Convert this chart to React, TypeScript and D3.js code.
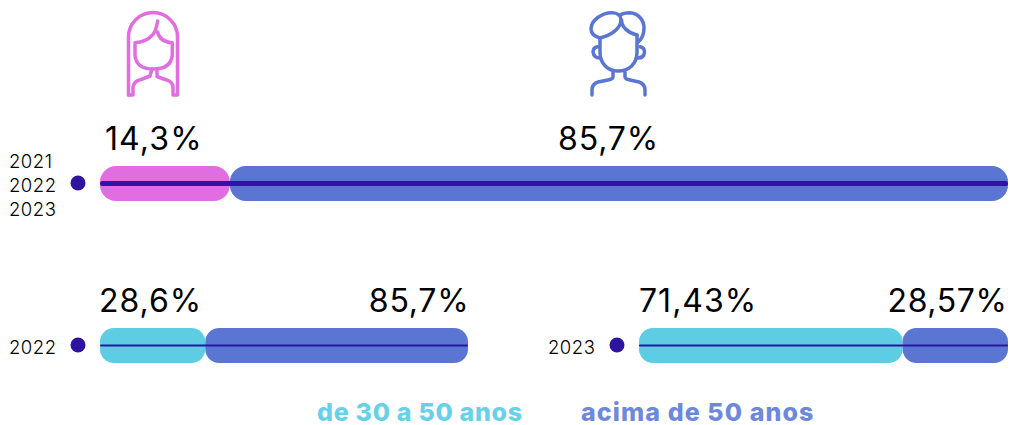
import React from "react";
import * as d3 from "d3";

const PINK = "#e06ee0", BLUE = "#5a75d2", CYAN = "#5ccde3", DARK = "#2e14a0";
const FONT = "Inter, 'Open Sans', sans-serif";

const topValues = [14.3, 85.7];
const topLabels = ["14,3%", "85,7%"];
const topYears = ["2021", "2022", "2023"];
const values2022 = [28.6, 71.4];
const labels2022 = ["28,6%", "85,7%"];
const values2023 = [71.43, 28.57];
const labels2023 = ["71,43%", "28,57%"];
const legendLabels = ["de 30 a 50 anos", "acima de 50 anos"];

function Row({ values, colors, x0, x1, y, h, r, lineW }: any) {
  const x = d3.scaleLinear().domain([0, 100]).range([x0, x1]);
  let acc = 0;
  return (
    <g>
      {values.map((v: number, i: number) => {
        const a = x(acc);
        acc += v;
        const b = x(acc);
        return <rect key={i} x={a} y={y} width={b - a} height={h} rx={r} ry={r} fill={colors[i]} />;
      })}
      <line x1={x0 + lineW / 2} x2={x1 - lineW / 2} y1={y + h / 2} y2={y + h / 2} stroke={DARK} strokeWidth={lineW} strokeLinecap="round" />
    </g>
  );
}

function Txt({ x, y, size, anchor, fill, weight, children, spacing }: any) {
  return (
    <text x={x} y={y} fontSize={size} textAnchor={anchor || "start"} fill={fill || "#000"} fontWeight={weight || 400}
      fontFamily={FONT} letterSpacing={spacing}>{children}</text>
  );
}

export default function App() {
  return (
    <svg width={1011} height={425} style={{ position: "absolute", left: 0, top: 0, background: "#fff" }}>
      {/* woman icon */}
      <g fill="none" stroke={PINK} strokeWidth={3.5} strokeLinecap="round" strokeLinejoin="round">
        <path d="M128.5,95 V37 A24.5,24.5 0 0 1 177.5,37 V95 H173 V87 Q172.5,81 165,79.5 L157,76.5 V69" />
        <path d="M128.5,95 H133 V87 Q134,81 141,79.5 L150,76 L152,69" />
        <path d="M157.7,21 Q156,31 152.5,35 Q146,42 135,42.7 V55 Q136,69 153.5,69 Q171,69 172.3,55 V42.7 Q160,42 157.5,32" />
      </g>
      {/* man icon */}
      <g fill="none" stroke={BLUE} strokeWidth={3.5} strokeLinecap="round" strokeLinejoin="round">
        <path d="M600,38 C593,36 591,33 591,29 C591,20 602,12.7 612,12.7 C618,12.7 621,16 621,20 C621,28 612,35 600,38 Z" />
        <path d="M620,15 C623,13 626,12.7 630,12.7 C638,13 644,20 644,28 C644,34 642,39 638,42" />
        <path d="M621.5,20 C621.5,27 628,33 637,35" />
        <path d="M600,38 V52 C600,64 608,71 618,71 C629,71 637,64 637,52 V35" />
        <path d="M597.7,46.7 Q593,47.5 593,52 Q594,58 600,58" />
        <path d="M640,46.7 Q644.5,47.5 644.5,52 Q644,58 638,58" />
        <path d="M613,72 V77 Q613,79 608,80 L598,82 Q592,84 592,90 V95" />
        <path d="M625,72 V77 Q625,79 630,80 L639,82 Q645,84 645,90 V95" />
      </g>

      {/* top row */}
      <Txt x={105} y={150} size={32} spacing={1.1}>{topLabels[0]}</Txt>
      <Txt x={558} y={150} size={32} spacing={0.9}>{topLabels[1]}</Txt>
      <Row values={topValues} colors={[PINK, BLUE]} x0={100} x1={1008} y={166} h={35} r={16} lineW={5} />
      <circle cx={78} cy={183} r={7.5} fill={DARK} />
      <Txt x={9} y={168} size={18.5} weight={300} spacing={0.5}>{topYears[0]}</Txt>
      <Txt x={9} y={192} size={18.5} weight={300} spacing={0.5}>{topYears[1]}</Txt>
      <Txt x={9} y={216} size={18.5} weight={300} spacing={0.5}>{topYears[2]}</Txt>

      {/* 2022 */}
      <Txt x={99} y={312} size={32} spacing={1}>{labels2022[0]}</Txt>
      <Txt x={469.5} y={312} size={32} anchor="end" spacing={0.8}>{labels2022[1]}</Txt>
      <Row values={values2022} colors={[CYAN, BLUE]} x0={100} x1={468} y={328} h={35} r={14} lineW={2} />
      <circle cx={78} cy={345} r={7.5} fill={DARK} />
      <Txt x={9} y={354} size={18.5} weight={300} spacing={0.5}>2022</Txt>

      {/* 2023 */}
      <Txt x={639} y={312} size={32} spacing={1}>{labels2023[0]}</Txt>
      <Txt x={1007.5} y={312} size={32} anchor="end" spacing={0.6}>{labels2023[1]}</Txt>
      <Row values={values2023} colors={[CYAN, BLUE]} x0={639} x1={1008} y={328} h={35} r={14} lineW={2} />
      <circle cx={617} cy={345} r={7.5} fill={DARK} />
      <Txt x={548} y={354} size={18.5} weight={300} spacing={0.5}>2023</Txt>

      {/* legend */}
      <Txt x={317} y={421} size={25} weight={800} fill="#68d1e8" spacing={0.7}>{legendLabels[0]}</Txt>
      <Txt x={581} y={421} size={25} weight={800} fill="#6e88dc" spacing={1.1}>{legendLabels[1]}</Txt>
    </svg>
  );
}
